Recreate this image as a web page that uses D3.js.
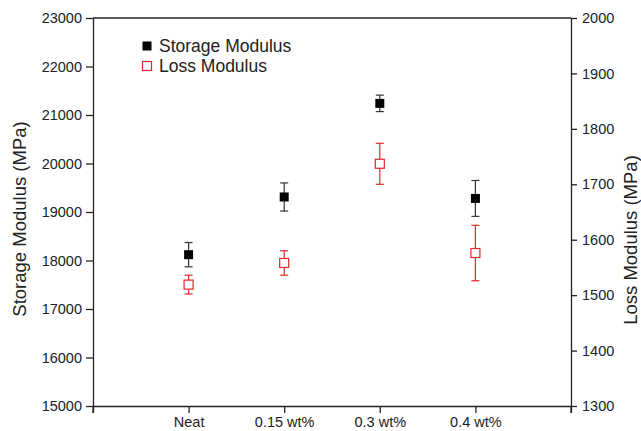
<!DOCTYPE html>
<html>
<head>
<meta charset="utf-8">
<script src="https://cdn.jsdelivr.net/npm/d3@7"></script>
<style>
  html, body { margin: 0; padding: 0; background: #fff; }
  svg { display: block; font-family: "Liberation Sans", Arial, sans-serif; }
  .axis path, .axis line { stroke: #222; stroke-width: 1.3; }
  .axis text { font-size: 14.5px; fill: #222; }
  .axis-title { font-size: 18.5px; fill: #222; }
  .legend text { font-size: 17.5px; fill: #222; }
</style>
</head>
<body>
<div id="chart"></div>
<script>
// values
const categories = ["Neat", "0.15 wt%", "0.3 wt%", "0.4 wt%"];
const storageValues = [18120, 19310, 21240, 19280];
const storageErrors = [250, 290, 170, 370];
const lossValues = [1519, 1558, 1737, 1576];
const lossErrors = [17, 22, 37, 50];
const leftTicks = [15000, 16000, 17000, 18000, 19000, 20000, 21000, 22000, 23000];
const rightTicks = [1300, 1400, 1500, 1600, 1700, 1800, 1900, 2000];

(function () {
  "use strict";

  const totalW = 641, totalH = 431;
  const margin = { top: 18, right: 70, bottom: 25, left: 93 };
  const width = totalW - margin.left - margin.right;
  const height = totalH - margin.top - margin.bottom;

  const storageColor = "#000";
  const lossColor = "#e2262b";

  // x positions: categories sit at 1..4 on a 0..5 linear axis
  const x = d3.scaleLinear().domain([0, categories.length + 1]).range([0, width]);
  const yLeft = d3.scaleLinear().domain([15000, 23000]).range([height, 0]);
  const yRight = d3.scaleLinear().domain([1300, 2000]).range([height, 0]);

  const svg = d3.select("#chart").append("svg")
    .attr("width", totalW)
    .attr("height", totalH);

  const g = svg.append("g")
    .attr("transform", `translate(${margin.left},${margin.top})`);

  // top frame line
  g.append("line")
    .attr("x1", 0).attr("x2", width)
    .attr("y1", 0).attr("y2", 0)
    .attr("stroke", "#222").attr("stroke-width", 1.3);

  // bottom axis
  const xTickVals = d3.range(0, categories.length + 2);
  g.append("g")
    .attr("class", "axis")
    .attr("transform", `translate(0,${height})`)
    .call(d3.axisBottom(x)
      .tickValues(xTickVals)
      .tickSize(7)
      .tickSizeOuter(0)
      .tickPadding(4)
      .tickFormat(d => categories[d - 1] || ""));

  // left axis
  g.append("g")
    .attr("class", "axis")
    .call(d3.axisLeft(yLeft)
      .tickValues(leftTicks)
      .tickSize(7)
      .tickSizeOuter(0)
      .tickPadding(4)
      .tickFormat(d3.format("d")));

  // right axis
  g.append("g")
    .attr("class", "axis")
    .attr("transform", `translate(${width},0)`)
    .call(d3.axisRight(yRight)
      .tickValues(rightTicks)
      .tickSize(6)
      .tickSizeOuter(0)
      .tickPadding(5)
      .tickFormat(d3.format("d")));

  // little downward stubs where the vertical axes meet the bottom line
  [0, width].forEach(px => {
    g.append("line")
      .attr("x1", px).attr("x2", px)
      .attr("y1", height).attr("y2", height + 7)
      .attr("stroke", "#222").attr("stroke-width", 1.3);
  });

  // axis titles
  g.append("text")
    .attr("class", "axis-title")
    .attr("transform", "rotate(-90)")
    .attr("x", -height / 2 - 7)
    .attr("y", -67)
    .attr("text-anchor", "middle")
    .text("Storage Modulus (MPa)");

  g.append("text")
    .attr("class", "axis-title")
    .attr("transform", "rotate(-90)")
    .attr("x", -height / 2 - 28)
    .attr("y", width + 66)
    .attr("text-anchor", "middle")
    .text("Loss Modulus (MPa)");

  const capW = 8;
  const sq = 9;

  function drawSeries(values, errors, yScale, color, filled, cls) {
    const pts = values.map((v, i) => ({ v, e: errors[i], i }));
    const grp = g.append("g").attr("class", cls);

    const eb = grp.selectAll(".eb").data(pts).join("g").attr("class", "eb")
      .attr("stroke", filled ? "#333" : color)
      .attr("stroke-width", 1.2);

    eb.append("line")
      .attr("x1", d => x(d.i + 1)).attr("x2", d => x(d.i + 1))
      .attr("y1", d => yScale(d.v + d.e)).attr("y2", d => yScale(d.v - d.e));
    eb.append("line")
      .attr("x1", d => x(d.i + 1) - capW / 2).attr("x2", d => x(d.i + 1) + capW / 2)
      .attr("y1", d => yScale(d.v + d.e)).attr("y2", d => yScale(d.v + d.e));
    eb.append("line")
      .attr("x1", d => x(d.i + 1) - capW / 2).attr("x2", d => x(d.i + 1) + capW / 2)
      .attr("y1", d => yScale(d.v - d.e)).attr("y2", d => yScale(d.v - d.e));

    grp.selectAll(".mk").data(pts).join("rect")
      .attr("class", "mk")
      .attr("x", d => x(d.i + 1) - sq / 2)
      .attr("y", d => yScale(d.v) - sq / 2)
      .attr("width", sq).attr("height", sq)
      .attr("fill", filled ? color : "#fff")
      .attr("stroke", color)
      .attr("stroke-width", filled ? 0 : 1.2);
  }

  drawSeries(storageValues, storageErrors, yLeft, storageColor, true, "storage");
  drawSeries(lossValues, lossErrors, yRight, lossColor, false, "loss");

  // legend
  const legend = g.append("g")
    .attr("class", "legend")
    .attr("transform", "translate(54,28)");

  const items = [
    { label: "Storage Modulus", color: storageColor, filled: true },
    { label: "Loss Modulus", color: lossColor, filled: false }
  ];

  items.forEach((it, i) => {
    const row = legend.append("g").attr("transform", `translate(0,${i * 20})`);
    row.append("rect")
      .attr("x", -sq / 2).attr("y", -sq / 2)
      .attr("width", sq).attr("height", sq)
      .attr("fill", it.filled ? it.color : "#fff")
      .attr("stroke", it.color)
      .attr("stroke-width", it.filled ? 0 : 1.2);
    row.append("text")
      .attr("x", 12)
      .attr("dy", "0.35em")
      .text(it.label);
  });
})();
</script>
</body>
</html>
